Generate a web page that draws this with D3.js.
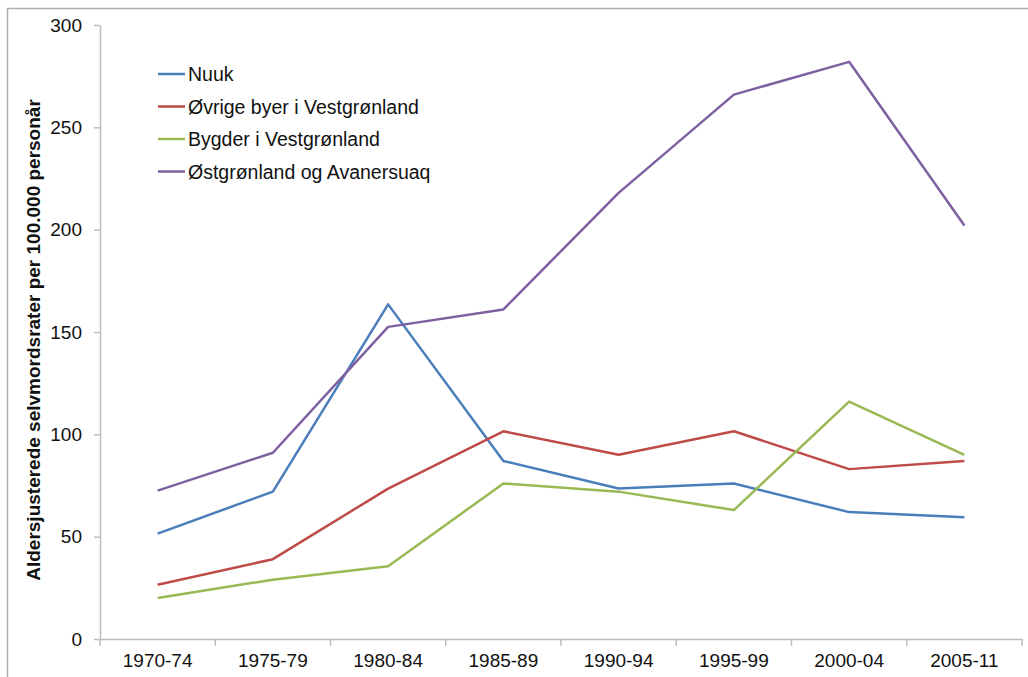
<!DOCTYPE html>
<html>
<head>
<meta charset="utf-8">
<script src="https://cdn.jsdelivr.net/npm/d3@7"></script>
<style>
  body { margin: 0; background: #fff; }
  text { font-family: "Liberation Sans", Arial, sans-serif; }
</style>
</head>
<body>
<div id="chart"></div>
<script>
// ---------------- DATA ----------------
var periods = ["1970-74", "1975-79", "1980-84", "1985-89", "1990-94", "1995-99", "2000-04", "2005-11"];
var seriesNames = ["Nuuk", "Øvrige byer i Vestgrønland", "Bygder i Vestgrønland", "Østgrønland og Avanersuaq"];
var nuuk = [51.5, 72, 163.5, 87, 73.5, 76, 62, 59.5];
var ovrigeByer = [26.5, 39, 73.5, 101.5, 90, 101.5, 83, 87];
var bygder = [20, 29, 35.5, 76, 72, 63, 116, 90];
var ostgronland = [72.5, 91, 152.5, 161, 218, 266, 282, 202];
var yTicks = [0, 50, 100, 150, 200, 250, 300];
var yTitle = "Aldersjusterede  selvmordsrater per 100.000 personår";

var seriesValues = [nuuk, ovrigeByer, bygder, ostgronland];
var colors = ["#4a7ebb", "#be4b48", "#98b954", "#7d60a0"];

// ---------------- CANVAS ----------------
var svgWidth = 1028, svgHeight = 677;
var svg = d3.select("#chart").append("svg")
    .attr("width", svgWidth)
    .attr("height", svgHeight);

// outer frame (runs off the right/bottom edges)
svg.append("rect")
    .attr("x", 7.5).attr("y", 8.5)
    .attr("width", 1040).attr("height", 700)
    .attr("fill", "none")
    .attr("stroke", "#b0b0b0")
    .attr("stroke-width", 1.5);

var plot = {left: 100, right: 1022, top: 25, bottom: 639};

// ---------------- SCALES ----------------
var x = d3.scaleBand()
    .domain(periods)
    .range([plot.left, plot.right]);

var y = d3.scaleLinear()
    .domain([0, 300])
    .range([plot.bottom, plot.top]);

// ---------------- AXES ----------------
var yAxis = d3.axisLeft(y).tickValues(yTicks).tickSize(6).tickPadding(12).tickSizeOuter(0);
var yG = svg.append("g")
    .attr("transform", `translate(${plot.left},0)`)
    .call(yAxis);
yG.select(".domain").attr("stroke", "#bdbdbd").attr("stroke-width", 1.5);
yG.selectAll(".tick line").attr("stroke", "#bdbdbd").attr("stroke-width", 1.5);
yG.selectAll(".tick text")
    .attr("font-size", "19px")
    .attr("fill", "#111")
    .style("font-family", "'Liberation Sans', Arial, sans-serif");

var xAxis = d3.axisBottom(x).tickSize(0).tickPadding(15);
var xG = svg.append("g")
    .attr("transform", `translate(0,${plot.bottom})`)
    .call(xAxis);
xG.select(".domain").attr("stroke", "#bdbdbd").attr("stroke-width", 1.5);
xG.selectAll(".tick text")
    .attr("font-size", "19px")
    .attr("fill", "#111")
    .style("font-family", "'Liberation Sans', Arial, sans-serif");

// boundary ticks between the categories
var boundaries = periods.map(function(p) { return x(p); }).concat([x.range()[1]]);
xG.selectAll(".bound")
    .data(boundaries)
    .enter()
    .append("line")
    .attr("x1", function(d) { return d; })
    .attr("x2", function(d) { return d; })
    .attr("y1", 0)
    .attr("y2", 7)
    .attr("stroke", "#bdbdbd")
    .attr("stroke-width", 1.5);

// y title
svg.append("text")
    .attr("transform", `translate(40,340) rotate(-90)`)
    .attr("text-anchor", "middle")
    .attr("font-size", "19px")
    .attr("font-weight", "bold")
    .attr("fill", "#111")
    .text(yTitle);

// ---------------- LINES ----------------
var line = d3.line()
    .x(function(d, i) { return x(periods[i]) + x.bandwidth() / 2; })
    .y(function(d) { return y(d); });

svg.selectAll(".series")
    .data(seriesValues)
    .enter()
    .append("path")
    .attr("class", "series")
    .attr("d", function(d) { return line(d); })
    .attr("fill", "none")
    .attr("stroke", function(d, i) { return colors[i]; })
    .attr("stroke-width", 2.5)
    .attr("stroke-linejoin", "round");

// ---------------- LEGEND ----------------
var legend = svg.append("g");
var rows = legend.selectAll("g")
    .data(seriesNames)
    .enter()
    .append("g")
    .attr("transform", function(d, i) { return `translate(158,${74 + i * 32.5})`; });

rows.append("line")
    .attr("x1", 0).attr("x2", 27)
    .attr("y1", 0).attr("y2", 0)
    .attr("stroke", function(d, i) { return colors[i]; })
    .attr("stroke-width", 2.5);

rows.append("text")
    .attr("x", 30)
    .attr("y", 7)
    .attr("font-size", "19.5px")
    .attr("fill", "#111")
    .text(function(d) { return d; });
</script>
</body>
</html>
